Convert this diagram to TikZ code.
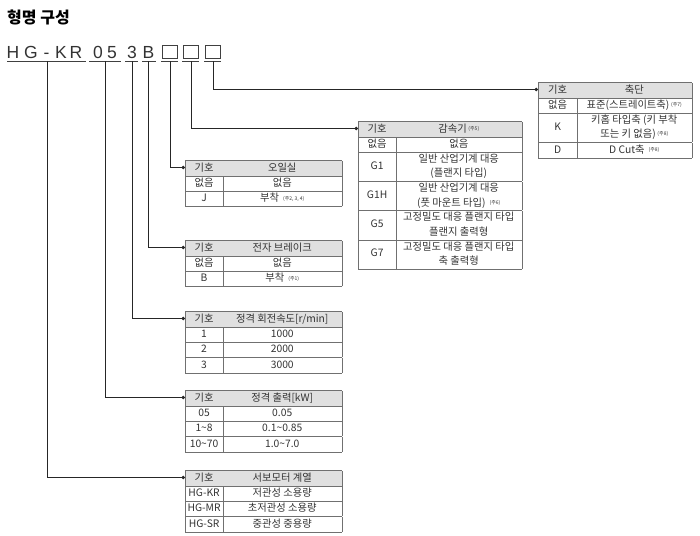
\documentclass[tikz,border=0pt]{standalone}
\usepackage{fontspec}
\setmainfont{Noto Sans CJK KR}
\newfontfamily\modelfont{Liberation Sans}
\usepackage{array}
\usepackage{colortbl}
\usetikzlibrary{arrows.meta}

\definecolor{hdrgray}{HTML}{E0E0E0}
\definecolor{inkgray}{HTML}{333333}
\definecolor{rulegray}{HTML}{707070}

\newcolumntype{C}[1]{>{\centering\arraybackslash}p{#1}}
\newcommand{\fnref}[1]{\,{\fontsize{5}{6}\selectfont\raisebox{0.7ex}{(주#1)}}}
\newcommand{\twolines}[2]{{\renewcommand{\arraystretch}{1.2}%
  \begin{tabular}{@{}c@{}}#1\\#2\end{tabular}}}
\setlength{\tabcolsep}{2pt}
\renewcommand{\arraystretch}{1.25}
\arrayrulecolor{rulegray}

\tikzstyle{codetable} = [inner sep=0pt, anchor=north west, text=inkgray,
    font=\fontsize{10.3}{12}\selectfont]
\tikzstyle{modelchar} = [inner sep=0pt, text=black!80,
    font=\modelfont\fontsize{17.5}{17.5}\selectfont]
\tikzstyle{blankbox} = [draw=black!75, line width=0.7pt,
    minimum width=15pt, minimum height=13pt, inner sep=0pt]
\tikzstyle{uline} = [black!75, line width=0.8pt]
\tikzstyle{link} = [black!85, line width=0.8pt, -{Circle[length=3.5pt]}]

\begin{document}
\begin{tikzpicture}[x=1pt, y=-1pt]
\useasboundingbox (0,0) rectangle (700,535);

\node [anchor=west, inner sep=0pt, font=\fontsize{16}{18}\selectfont\bfseries]
  (title) at (7,17.5) {형명 구성};

\foreach \ch/\xx [count=\i] in {H/13, G/31, -/46.5, K/61, R/76, 0/98, 5/112, 3/132, B/148.5}
  \node [modelchar, anchor=base] (ch\i) at (\xx,58) {\ch};
\foreach \xx [count=\i] in {169.5, 190.5, 212.5}
  \node [blankbox] (box\i) at (\xx,51.5) {};

\foreach \a/\b/\m [count=\i] in {7/86/47, 89/121/105, 125/138/132, 142/156/148,
    161/178/170, 182/199/191, 204/221/213}{
  \draw [uline] (\a,61) -- (\b,61);
  \coordinate (seg\i) at (\m,61);
}

\node [codetable] (shaft) at (538,82) {%
\begin{tabular}{|w{c}{34pt}|C{110.5pt}|}
\hline
\rowcolor{hdrgray} 기호 & 축단 \\ \hline
없음 & 표준(스트레이트축)\fnref{7} \\ \hline
K & \twolines{키홈 타입축 (키 부착}{또는 키 없음)\fnref{8}} \\ \hline
D & D Cut축 \fnref{8} \\ \hline
\end{tabular}};

\node [codetable] (reducer) at (358,121) {%
\begin{tabular}{|w{c}{33pt}|C{121.5pt}|}
\hline
\rowcolor{hdrgray} 기호 & 감속기\fnref{5} \\ \hline
없음 & 없음 \\ \hline
G1 & \twolines{일반 산업기계 대응}{(플랜지 타입)} \\ \hline
G1H & \twolines{일반 산업기계 대응}{(풋 마운트 타입) \fnref{6}} \\ \hline
G5 & \twolines{고정밀도 대응 플랜지 타입}{플랜지 출력형} \\ \hline
G7 & \twolines{고정밀도 대응 플랜지 타입}{축 출력형} \\ \hline
\end{tabular}};

\node [codetable] (oilseal) at (185,160) {%
\begin{tabular}{|w{c}{33pt}|C{114.5pt}|}
\hline
\rowcolor{hdrgray} 기호 & 오일실 \\ \hline
없음 & 없음 \\ \hline
J & 부착 \fnref{2, 3, 4} \\ \hline
\end{tabular}};

\node [codetable] (brake) at (185,240) {%
\begin{tabular}{|w{c}{33pt}|C{114.5pt}|}
\hline
\rowcolor{hdrgray} 기호 & 전자 브레이크 \\ \hline
없음 & 없음 \\ \hline
B & 부착 \fnref{1} \\ \hline
\end{tabular}};

\node [codetable] (speed) at (185,311) {%
\begin{tabular}{|w{c}{33pt}|C{114.5pt}|}
\hline
\rowcolor{hdrgray} 기호 & 정격 회전속도[r/min] \\ \hline
1 & 1000 \\ \hline
2 & 2000 \\ \hline
3 & 3000 \\ \hline
\end{tabular}};

\node [codetable] (output) at (185,390) {%
\begin{tabular}{|w{c}{33pt}|C{114.5pt}|}
\hline
\rowcolor{hdrgray} 기호 & 정격 출력[kW] \\ \hline
05 & 0.05 \\ \hline
1\textasciitilde 8 & 0.1\textasciitilde 0.85 \\ \hline
10\textasciitilde 70 & 1.0\textasciitilde 7.0 \\ \hline
\end{tabular}};

\node [codetable] (series) at (185,470) {%
\begin{tabular}{|w{c}{33pt}|C{114.5pt}|}
\hline
\rowcolor{hdrgray} 기호 & 서보모터 계열 \\ \hline
HG-KR & 저관성 소용량 \\ \hline
HG-MR & 초저관성 소용량 \\ \hline
HG-SR & 중관성 중용량 \\ \hline
\end{tabular}};

\draw [link] (seg1) |- ([yshift=-7.5pt]series.north west);
\draw [link] (seg2) |- ([yshift=-7.5pt]output.north west);
\draw [link] (seg3) |- ([yshift=-7.5pt]speed.north west);
\draw [link] (seg4) |- ([yshift=-7.5pt]brake.north west);
\draw [link] (seg5) |- ([yshift=-7.5pt]oilseal.north west);
\draw [link] (seg6) |- ([yshift=-7.5pt]reducer.north west);
\draw [link] (seg7) |- ([yshift=-7.5pt]shaft.north west);
\end{tikzpicture}
\end{document}
